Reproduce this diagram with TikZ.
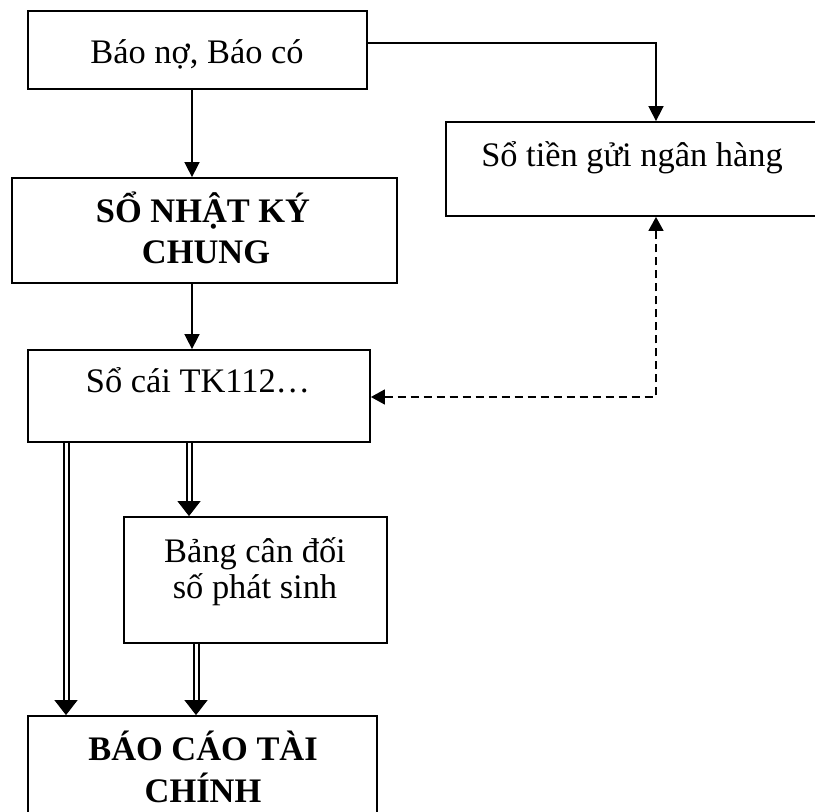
\documentclass[tikz,border=0pt]{standalone}
\usepackage{fontspec}
\setmainfont{Liberation Serif}
\usetikzlibrary{arrows.meta}

% double connector: thin line carrying the tip, double stroke laid over it
\newcommand\dblconn[2]{%
  \draw[tipline] #1 -- #2;
  \draw[dblline] #1 -- #2;}

\begin{document}
\begin{tikzpicture}[x=1pt,y=-1pt,
  box/.style={draw, line width=1.8pt, inner sep=0pt},
  txt/.style={anchor=base, inner sep=0pt, font=\fontsize{34.4}{41}\selectfont},
  btxt/.style={anchor=base, inner sep=0pt, font=\fontsize{34.4}{41}\selectfont\bfseries},
  arr/.style={line width=1.6pt, -{Triangle[width=15pt,length=15pt]}},
  dasharr/.style={line width=1.5pt, dash pattern=on 8pt off 5pt,
    {Triangle[width=15pt,length=14pt]}-{Triangle[width=15pt,length=14pt]}},
  tipline/.style={line width=1pt, -{Triangle[width=23pt,length=15pt]}},
  dblline/.style={double, line width=2pt, double distance=3pt, shorten >=15pt}]

\clip (0,0) rectangle (815,812);
\useasboundingbox (0,0) rectangle (815,812);

% boxes
\node[box, minimum width=339pt, minimum height=78pt]  (b1) at (197.5,50) {};
\node[box, minimum width=372pt, minimum height=94pt]  (b2) at (632,169) {};
\node[box, minimum width=385pt, minimum height=105pt] (b3) at (204.5,230.5) {};
\node[box, minimum width=342pt, minimum height=92pt]  (b4) at (199,396) {};
\node[box, minimum width=263pt, minimum height=126pt] (b5) at (255.5,580) {};
\node[box, minimum width=349pt, minimum height=124pt] (b6) at (202.5,778) {};

% box texts
\node[txt]  (t1)  at (197,63)  {Báo nợ, Báo có};
\node[txt]  (t2)  at (632,166) {Sổ tiền gửi ngân hàng};
\node[btxt] (t3a) at (203,222) {SỔ NHẬT KÝ};
\node[btxt] (t3b) at (206,263) {CHUNG};
\node[txt]  (t4)  at (198,392) {Sổ cái TK112…};
\node[txt]  (t5a) at (255,562) {Bảng cân đối};
\node[txt]  (t5b) at (255,598) {số phát sinh};
\node[btxt] (t6a) at (203,760) {BÁO CÁO TÀI};
\node[btxt] (t6b) at (203,802) {CHÍNH};

% connector guides
\coordinate (xmain) at (192,0);
\coordinate (xbank) at (656,0);
\coordinate (xleft) at (66,0);
\coordinate (xmid)  at (189,0);
\coordinate (xbal)  at (196,0);
\coordinate (ytop)  at (0,43);
\coordinate (ydash) at (0,397);

% connectors
\draw[arr] (b1.south -| xmain) -- (b3.north -| xmain);
\draw[arr] (b1.east |- ytop) -| (b2.north -| xbank);
\draw[arr] (b3.south -| xmain) -- (b4.north -| xmain);
\draw[dasharr] (b4.east |- ydash) -| (b2.south -| xbank);

\dblconn{(b4.south -| xleft)}{(b6.north -| xleft)}
\dblconn{(b4.south -| xmid)}{(b5.north -| xmid)}
\dblconn{(b5.south -| xbal)}{(b6.north -| xbal)}
\end{tikzpicture}
\end{document}
